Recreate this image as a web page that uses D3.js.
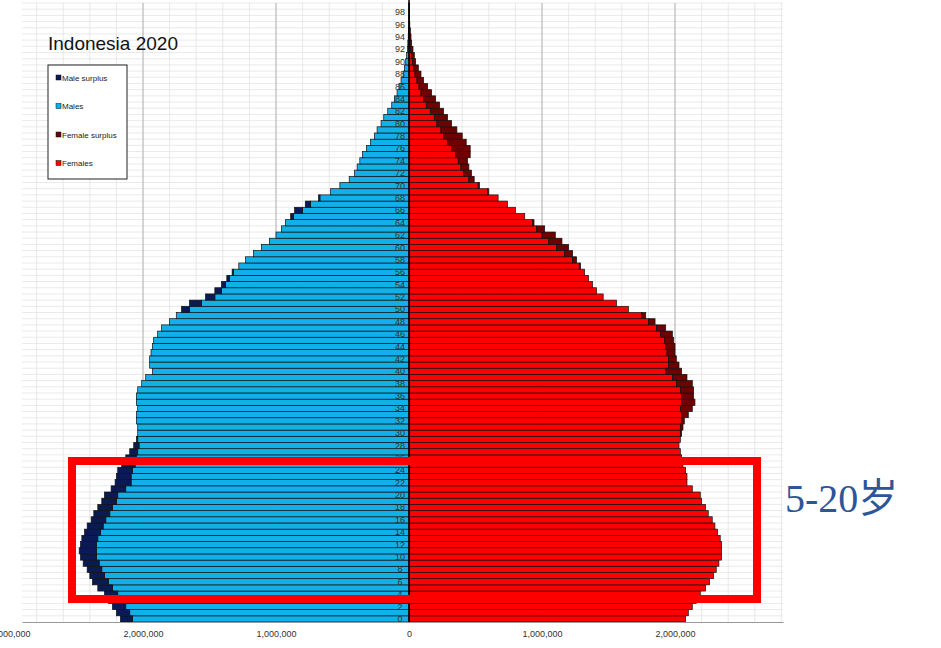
<!DOCTYPE html>
<html><head><meta charset="utf-8">
<script src="https://cdn.jsdelivr.net/npm/d3@7"></script>
<style>body{margin:0;background:#fff}svg{display:block;font-family:"Liberation Sans",Arial,sans-serif}</style>
</head><body>
<svg id="chart" width="941" height="648"></svg>
<script>
// population by single year of age, 0..99
var ages = d3.range(0, 100);
var males = [2.17,2.20,2.23,2.26,2.29,2.34,2.38,2.40,2.42,2.45,2.47,2.48,2.47,2.46,2.44,2.42,2.39,2.37,2.34,2.31,
	2.29,2.24,2.21,2.20,2.19,2.16,2.13,2.10,2.07,2.05,2.04,2.04,2.05,2.05,2.04,2.05,2.05,2.04,2.01,1.98,
	1.93,1.95,1.95,1.94,1.93,1.92,1.89,1.86,1.80,1.75,1.71,1.65,1.53,1.46,1.41,1.37,1.33,1.28,1.23,1.17,
	1.11,1.05,1.00,0.96,0.93,0.89,0.86,0.78,0.68,0.59,0.52,0.45,0.41,0.39,0.37,0.35,0.32,0.29,0.26,0.24,
	0.21,0.19,0.16,0.13,0.11,0.09,0.075,0.06,0.045,0.035,0.025,0.018,0.012,0.009,0.006,0.004,0.002,0.0015,0.001,0.0005];
var females = [2.08,2.10,2.13,2.16,2.19,2.23,2.26,2.29,2.31,2.33,2.35,2.35,2.35,2.34,2.32,2.30,2.28,2.25,2.23,2.20,
	2.19,2.13,2.09,2.09,2.08,2.06,2.05,2.04,2.03,2.04,2.05,2.06,2.07,2.10,2.13,2.15,2.14,2.14,2.13,2.09,
	2.05,2.03,2.01,2.00,2.00,1.99,1.98,1.93,1.85,1.78,1.65,1.56,1.46,1.41,1.38,1.35,1.32,1.29,1.26,1.23,
	1.20,1.15,1.10,1.02,0.94,0.87,0.80,0.74,0.67,0.60,0.53,0.49,0.47,0.45,0.44,0.46,0.46,0.43,0.40,0.36,
	0.32,0.29,0.26,0.23,0.20,0.17,0.14,0.11,0.09,0.07,0.05,0.04,0.03,0.02,0.015,0.01,0.006,0.004,0.002,0.001];
var tickValues = [-3e6,-2e6,-1e6,0,1e6,2e6];
var legendItems = [
	{name:"Male surplus", fill:"#0a1a55"},
	{name:"Males", fill:"#12b0e8"},
	{name:"Female surplus", fill:"#6e0000"},
	{name:"Females", fill:"#ff0000"}
];

var svg = d3.select("#chart");
var pLeft = 22, pRight = 783, pTop = 3, pBottom = 622;
var x = d3.scaleLinear().domain([-2.91e6, 2.812e6]).range([pLeft, pRight]);
var y = d3.scaleBand().domain(ages).range([pBottom, pTop]).padding(0);

// grid
var grid = svg.append("g");
grid.selectAll(".hg").data(ages).enter().append("line")
	.attr("x1", pLeft).attr("x2", pRight)
	.attr("y1", function(d){ return y(d); }).attr("y2", function(d){ return y(d); })
	.attr("stroke", "#e4e4e4").attr("stroke-width", 0.8);
grid.selectAll(".vg").data(d3.range(-14, 15)).enter().append("line")
	.attr("x1", function(d){ return x(d * 2e5); }).attr("x2", function(d){ return x(d * 2e5); })
	.attr("y1", pTop).attr("y2", pBottom)
	.attr("stroke", function(d){ return d % 5 === 0 ? "#b8b8b8" : "#e2e2e2"; })
	.attr("stroke-width", function(d){ return d % 5 === 0 ? 1.2 : 0.8; });

var rows = ages.map(function(a, i){
	return {age:a, m:males[i]*1e6, f:females[i]*1e6};
});
var bars = svg.append("g").attr("stroke", "#111").attr("stroke-width", 0.7);
function addBars(fill, x0, x1){
	bars.selectAll(null).data(rows.filter(function(r){ return Math.abs(x1(r) - x0(r)) > 0; })).enter().append("rect")
		.attr("x", function(r){ return Math.min(x(x0(r)), x(x1(r))); })
		.attr("width", function(r){ return Math.abs(x(x1(r)) - x(x0(r))); })
		.attr("y", function(r){ return y(r.age); })
		.attr("height", y.bandwidth())
		.attr("fill", fill);
}
addBars("#12b0e8", function(){ return 0; }, function(r){ return -Math.min(r.m, r.f); });
addBars("#0a1a55", function(r){ return -Math.min(r.m, r.f); }, function(r){ return -r.m; });
addBars("#ff0000", function(){ return 0; }, function(r){ return Math.min(r.m, r.f); });
addBars("#6e0000", function(r){ return Math.min(r.m, r.f); }, function(r){ return r.f; });

svg.append("line").attr("x1", x(0)).attr("x2", x(0)).attr("y1", 0).attr("y2", pBottom)
	.attr("stroke", "#000").attr("stroke-width", 1.5);

// age labels
svg.append("g").selectAll("text").data(ages.filter(function(a){ return a % 2 === 0; })).enter().append("text")
	.attr("x", x(0) - 9).attr("y", function(a){ return y(a) + y.bandwidth()/2 + 3; })
	.attr("text-anchor", "middle").attr("font-size", 9).attr("fill", "#333")
	.text(function(a){ return a; });

// x axis
var axis = svg.append("g").attr("transform", "translate(0," + pBottom + ")")
	.call(d3.axisBottom(x).tickValues(tickValues).tickSize(0).tickPadding(9)
		.tickFormat(function(d){ return d3.format(",")(Math.abs(d)); }));
axis.select(".domain").attr("stroke", "#999");
axis.selectAll("text").attr("font-size", 9).attr("fill", "#333").attr("font-family", "Liberation Sans, Arial");

// title + legend
svg.append("text").attr("x", 48).attr("y", 50).attr("font-size", 19).attr("fill", "#111").text("Indonesia 2020");
svg.append("rect").attr("x", 48).attr("y", 65).attr("width", 79).attr("height", 114)
	.attr("fill", "#fff").attr("stroke", "#222").attr("stroke-width", 1);
var lg = svg.append("g").selectAll("g").data(legendItems).enter().append("g")
	.attr("transform", function(d, i){ return "translate(56," + (79 + i * 28.5) + ")"; });
lg.append("rect").attr("x", 0).attr("y", -4).attr("width", 5).attr("height", 5)
	.attr("fill", function(d){ return d.fill; }).attr("stroke", "#111").attr("stroke-width", 0.5);
lg.append("text").attr("x", 6).attr("y", 1.5).attr("font-size", 8).attr("fill", "#222")
	.text(function(d){ return d.name; });

// annotation
svg.append("rect").attr("x", 72).attr("y", 461).attr("width", 685).attr("height", 138)
	.attr("fill", "none").attr("stroke", "#ff0000").attr("stroke-width", 8);
svg.append("text").attr("x", 785).attr("y", 512).attr("font-size", 40)
	.attr("font-family", "Liberation Serif, Noto Sans CJK SC, serif").attr("fill", "#2e5597")
	.text("5-20岁");
</script>
</body></html>
